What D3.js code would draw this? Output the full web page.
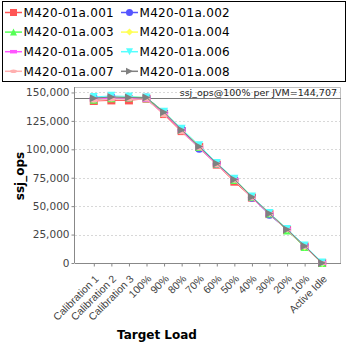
<!DOCTYPE html>
<html>
<head>
<meta charset="utf-8">
<script src="https://cdn.jsdelivr.net/npm/d3@7"></script>
<style>
  body { margin: 0; background: #fff; }
  svg { display: block; font-family: "DejaVu Sans", sans-serif; }
</style>
</head>
<body>
<div id="chart"></div>
<script>
// categories on the x axis
const loads = ["Calibration 1", "Calibration 2", "Calibration 3", "100%", "90%", "80%", "70%",
               "60%", "50%", "40%", "30%", "20%", "10%", "Active Idle"];

const seriesNames = ["M420-01a.001", "M420-01a.002", "M420-01a.003", "M420-01a.004",
                     "M420-01a.005", "M420-01a.006", "M420-01a.007", "M420-01a.008"];

// ssj_ops per JVM
const s001 = [142500, 143000, 143000, 144500, 131000, 116000, 102000, 86500, 71500, 57500, 43000, 29000, 14500, 0];
const s002 = [145000, 146000, 145500, 145500, 132500, 117500, 100500, 87000, 73500, 57500, 42500, 29000, 14500, 0];
const s003 = [143500, 145000, 145500, 145000, 132000, 117000, 102000, 87500, 73000, 58000, 43500, 28500, 14000, 0];
const s004 = [144500, 145500, 146500, 145500, 133000, 117500, 103000, 87500, 74000, 58500, 44000, 30000, 14500, 0];
const s005 = [144000, 145000, 145000, 143500, 131500, 116500, 101500, 86500, 73000, 57000, 43000, 29500, 14500, 0];
const s006 = [146000, 147000, 146500, 145500, 133000, 118000, 103500, 88000, 74000, 58500, 44000, 30000, 15500, 500];
const s007 = [143000, 144000, 144000, 144000, 130000, 115000, 101000, 86000, 72500, 57500, 43000, 29000, 14500, 0];
const s008 = [145000, 146000, 145500, 145500, 132500, 117000, 102500, 87500, 73500, 58000, 43500, 29500, 15000, 0];
const seriesValues = [s001, s002, s003, s004, s005, s006, s007, s008];

const colors = ["#ff5555", "#5555ff", "#55ff55", "#ffff55", "#ff55ff", "#55ffff", "#ffafaf", "#808080"];
const shapes = ["square", "circle", "up", "diamond", "hrect", "down", "ellipse", "right"];

const yTicks = [0, 25000, 50000, 75000, 100000, 125000, 150000];
const refValue = 144707;
const refLabel = "ssj_ops@100% per JVM=144,707";

const W = 348, H = 348;
const plot = { left: 75, right: 341, top: 87, bottom: 263 };

const svg = d3.select("#chart").append("svg")
    .attr("width", W)
    .attr("height", H);

const x = d3.scalePoint()
    .domain(loads)
    .range([plot.left, plot.right])
    .padding(1.07);

const y = d3.scaleLinear()
    .domain([0, 154800])
    .range([plot.bottom, plot.top]);

// plot background + gridlines
svg.append("rect")
    .attr("x", plot.left).attr("y", plot.top)
    .attr("width", plot.right - plot.left).attr("height", plot.bottom - plot.top)
    .attr("fill", "#fff");

svg.append("g")
    .selectAll("line")
    .data(yTicks.filter(d => d > 0))
    .enter().append("line")
    .attr("x1", plot.left).attr("x2", plot.right)
    .attr("y1", d => Math.round(y(d)) + 0.5).attr("y2", d => Math.round(y(d)) + 0.5)
    .attr("stroke", "#d8d8d8")
    .attr("stroke-dasharray", "2,2");

// plot border (top + right)
svg.append("path")
    .attr("d", `M${plot.left},${plot.top + 0.5}H${plot.right - 0.5}V${plot.bottom}`)
    .attr("fill", "none")
    .attr("stroke", "#c0c0c0");

// y axis
const yAxis = svg.append("g")
    .attr("transform", `translate(${plot.left - 0.5},0)`)
    .call(d3.axisLeft(y).tickValues(yTicks).tickSize(3).tickPadding(2).tickFormat(d3.format(",")));
yAxis.select(".domain").attr("stroke", "#888").attr("d", `M0,${plot.top}V${plot.bottom}`);
yAxis.selectAll(".tick line").attr("stroke", "#888");
yAxis.selectAll("text").attr("font-size", 10.5).attr("fill", "#444").attr("font-family", "DejaVu Sans");

// x axis
const xAxis = svg.append("g")
    .attr("transform", `translate(0,${plot.bottom + 0.5})`)
    .call(d3.axisBottom(x).tickSize(3).tickSizeOuter(0));
xAxis.select(".domain").attr("stroke", "#888").attr("d", `M${plot.left},0H${plot.right}`);
xAxis.selectAll(".tick line").attr("stroke", "#888");
xAxis.selectAll("text")
    .attr("font-size", 10.5)
    .attr("fill", "#444")
    .attr("text-anchor", "end")
    .attr("y", 0)
    .attr("dy", 0)
    .attr("transform", "translate(5,16) rotate(-45)");

// reference line
svg.append("line")
    .attr("x1", plot.left).attr("x2", plot.right)
    .attr("y1", Math.round(y(refValue)) + 0.5).attr("y2", Math.round(y(refValue)) + 0.5)
    .attr("stroke", "#777")
    .attr("stroke-width", 1.2);

svg.append("text")
    .attr("x", plot.right - 4)
    .attr("y", plot.top + 9)
    .attr("text-anchor", "end")
    .attr("font-size", 9.5)
    .attr("fill", "#222")
    .text(refLabel);

// symbol paths
function symbolPath(shape, s) {
    const h = s / 2;
    switch (shape) {
        case "square": return `M${-h},${-h}h${s}v${s}h${-s}Z`;
        case "circle": return d3.symbol(d3.symbolCircle, s * s * 0.8)();
        case "up": return `M0,${-h}L${h},${h}L${-h},${h}Z`;
        case "down": return `M0,${h}L${h},${-h}L${-h},${-h}Z`;
        case "right": return `M${h},0L${-h},${-h}L${-h},${h}Z`;
        case "diamond": return `M0,${-h}L${h},0L0,${h}L${-h},0Z`;
        case "hrect": return `M${-h},${-h / 2}h${s}v${h}h${-s}Z`;
        case "ellipse": return `M${-h},0a${h},${h / 2} 0 1,0 ${s},0a${h},${h / 2} 0 1,0 ${-s},0Z`;
    }
}

const line = d3.line()
    .x((d, i) => x(loads[i]))
    .y(d => y(d));

const series = svg.append("g")
    .selectAll("g")
    .data(seriesValues)
    .enter().append("g");

series.append("path")
    .attr("d", d => line(d))
    .attr("fill", "none")
    .attr("stroke", (d, i) => colors[i])
    .attr("stroke-width", 1);

series.each(function(vals, si) {
    d3.select(this).selectAll("path.pt")
        .data(vals)
        .enter().append("path")
        .attr("class", "pt")
        .attr("transform", (d, i) => `translate(${x(loads[i])},${y(d)})`)
        .attr("d", symbolPath(shapes[si], 8))
        .attr("fill", colors[si]);
});

// legend
const legend = svg.append("g");
legend.append("rect")
    .attr("x", 2.5).attr("y", 1.5)
    .attr("width", 343).attr("height", 80)
    .attr("fill", "#fff")
    .attr("stroke", "#000");

const legItems = legend.selectAll("g.item")
    .data(seriesNames)
    .enter().append("g")
    .attr("class", "item")
    .attr("transform", (d, i) => `translate(${i % 2 === 0 ? 5 : 121},${12.5 + Math.floor(i / 2) * 19.6})`);

legItems.append("line")
    .attr("x1", 0).attr("x2", 17)
    .attr("stroke", (d, i) => colors[i])
    .attr("stroke-width", 1.5);

legItems.append("path")
    .attr("transform", "translate(8.5,0)")
    .attr("d", (d, i) => symbolPath(shapes[i], 7))
    .attr("fill", (d, i) => colors[i]);

legItems.append("text")
    .attr("x", 18.5)
    .attr("dy", "0.36em")
    .attr("font-size", 12)
    .attr("letter-spacing", 0.3)
    .attr("fill", "#000")
    .text(d => d);

// axis titles
svg.append("text")
    .attr("x", 157)
    .attr("y", 339)
    .attr("text-anchor", "middle")
    .attr("font-size", 12)
    .attr("font-weight", "bold")
    .attr("fill", "#000")
    .text("Target Load");

svg.append("text")
    .attr("transform", "translate(24,176) rotate(-90)")
    .attr("text-anchor", "middle")
    .attr("font-size", 12)
    .attr("font-weight", "bold")
    .attr("fill", "#000")
    .text("ssj_ops");
</script>
</body>
</html>
